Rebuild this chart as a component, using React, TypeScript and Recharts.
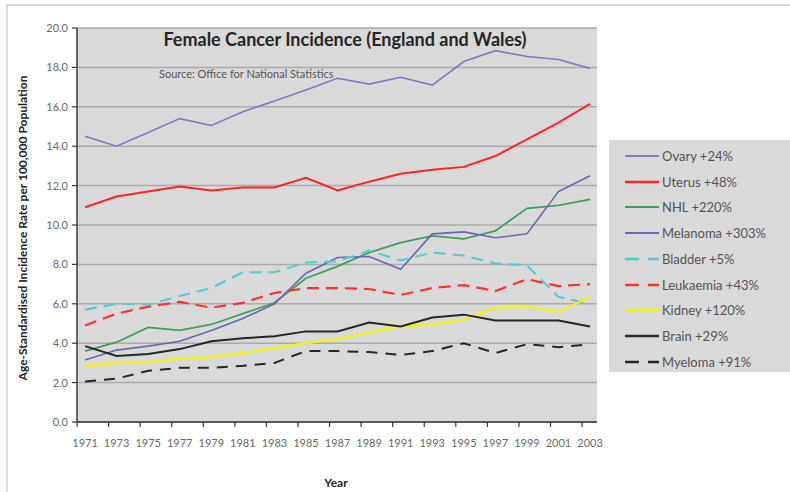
import React from 'react';
import { LineChart, Line, XAxis, YAxis, CartesianGrid } from 'recharts';

// Age-standardised incidence per 100,000 females, England and Wales
const years = [1971, 1973, 1975, 1977, 1979, 1981, 1983, 1985, 1987, 1989, 1991, 1993, 1995, 1997, 1999, 2001, 2003];

const ovary = [14.5, 14.0, 14.7, 15.4, 15.05, 15.75, 16.3, 16.85, 17.45, 17.15, 17.5, 17.1, 18.3, 18.85, 18.55, 18.4, 17.95];
const uterus = [10.9, 11.45, 11.7, 11.95, 11.75, 11.9, 11.9, 12.4, 11.75, 12.2, 12.6, 12.8, 12.95, 13.5, 14.35, 15.2, 16.15];
const nhl = [3.6, 4.05, 4.8, 4.65, 4.95, 5.5, 6.05, 7.3, 7.9, 8.6, 9.1, 9.45, 9.3, 9.7, 10.85, 11.0, 11.3];
const melanoma = [3.15, 3.65, 3.85, 4.1, 4.65, 5.25, 6.0, 7.55, 8.35, 8.4, 7.75, 9.55, 9.65, 9.35, 9.55, 11.7, 12.5];
const bladder = [5.7, 6.0, 5.95, 6.4, 6.8, 7.6, 7.6, 8.1, 8.15, 8.7, 8.2, 8.6, 8.45, 8.05, 7.95, 6.35, 6.0];
const leukaemia = [4.9, 5.5, 5.85, 6.1, 5.8, 6.05, 6.55, 6.8, 6.8, 6.75, 6.45, 6.8, 6.95, 6.65, 7.25, 6.9, 7.0];
const kidney = [2.85, 3.0, 3.05, 3.2, 3.3, 3.5, 3.75, 4.0, 4.2, 4.55, 4.85, 4.95, 5.2, 5.8, 5.85, 5.6, 6.35];
const brain = [3.85, 3.35, 3.45, 3.7, 4.1, 4.25, 4.35, 4.6, 4.6, 5.05, 4.85, 5.3, 5.45, 5.15, 5.15, 5.15, 4.85];
const myeloma = [2.05, 2.2, 2.6, 2.75, 2.75, 2.85, 3.0, 3.6, 3.6, 3.55, 3.4, 3.6, 4.0, 3.5, 3.95, 3.8, 3.95];

const yTicks = [0, 2, 4, 6, 8, 10, 12, 14, 16, 18, 20];

type Series = { key: string; name: string; values: number[]; color: string; width: number; dash?: string };

const series: Series[] = [
  { key: 'ovary', name: 'Ovary +24%', values: ovary, color: '#7b7bbf', width: 1.6 },
  { key: 'uterus', name: 'Uterus +48%', values: uterus, color: '#ff2424', width: 2 },
  { key: 'nhl', name: 'NHL +220%', values: nhl, color: '#3f9d62', width: 1.8 },
  { key: 'melanoma', name: 'Melanoma +303%', values: melanoma, color: '#6767ad', width: 1.6 },
  { key: 'bladder', name: 'Bladder +5%', values: bladder, color: '#4ccfcf', width: 2, dash: '12 7' },
  { key: 'leukaemia', name: 'Leukaemia +43%', values: leukaemia, color: '#ff3030', width: 2.2, dash: '12 7' },
  { key: 'kidney', name: 'Kidney +120%', values: kidney, color: '#f4f400', width: 2.2 },
  { key: 'brain', name: 'Brain +29%', values: brain, color: '#262626', width: 2 },
  { key: 'myeloma', name: 'Myeloma +91%', values: myeloma, color: '#262626', width: 2, dash: '11 8' },
];

const rows = years.map((year, i) => {
  const row: Record<string, number> = { year };
  series.forEach((s) => {
    row[s.key] = s.values[i];
  });
  return row;
});

const FONT = 'Lato, "Liberation Sans", sans-serif';

// tick marks sit half a step before each year label
const YearTick = (props: any) => {
  const { x, y, payload } = props;
  return (
    <g>
      <line x1={x - 8} x2={x - 8} y1={y} y2={y + 5} stroke="#3a3a3a" strokeWidth={1.2} />
      <text x={x} y={y + 25} textAnchor="middle" fontSize={11} fill="#6a6a6a" fontFamily={FONT}>
        {payload.value}
      </text>
    </g>
  );
};

const LegendBox = () => (
  <div
    style={{
      position: 'absolute',
      left: 609,
      top: 140,
      width: 181,
      height: 232,
      background: '#d9d9d9',
    }}
  >
    {series.map((s, i) => (
      <div
        key={s.key}
        style={{ position: 'absolute', left: 16, top: 7 + i * 25.7, height: 18, display: 'flex', alignItems: 'center' }}
      >
        <svg width={36} height={18}>
          <line x1={0} x2={34} y1={9} y2={9} stroke={s.color} strokeWidth={s.width + 0.4} strokeDasharray={s.dash ? '14 9' : undefined} />
        </svg>
        <span style={{ fontSize: 13, color: '#555', fontFamily: FONT, marginLeft: 1 }}>{s.name}</span>
      </div>
    ))}
  </div>
);

export default function App() {
  return (
    <div style={{ position: 'absolute', left: 0, top: 0, width: 790, height: 492, background: '#fff', fontFamily: FONT }}>
      <div
        style={{
          position: 'absolute',
          left: 6,
          top: 4,
          width: 800,
          height: 500,
          borderTop: '2px solid #dcdcdc',
          borderLeft: '2px solid #dcdcdc',
        }}
      />
      <LineChart
        width={790}
        height={492}
        data={rows}
        margin={{ top: 28, right: 193, bottom: 0, left: 0 }}
        style={{ position: 'absolute', left: 0, top: 0 }}
      >
        <CartesianGrid vertical={false} fill="#d9d9d9" stroke="#ababab" strokeWidth={1.5} />
        <XAxis
          dataKey="year"
          type="number"
          domain={[1970.49, 2003.44]}
          ticks={years}
          interval={0}
          allowDataOverflow
          height={70}
          tickSize={0}
          tickMargin={0}
          tickLine={false}
          tick={<YearTick />}
          axisLine={{ stroke: '#3a3a3a', strokeWidth: 1.5 }}
        />
        <YAxis
          domain={[0, 20]}
          ticks={yTicks}
          interval={0}
          width={77}
          tickSize={5}
          tickMargin={4}
          tickFormatter={(v: number) => v.toFixed(1)}
          tick={{ fontSize: 11, fill: '#6a6a6a', fontFamily: FONT }}
          tickLine={{ stroke: '#3a3a3a', strokeWidth: 1.2 }}
          axisLine={{ stroke: '#3a3a3a', strokeWidth: 1.5 }}
        />
        {series.map((s) => (
          <Line
            key={s.key}
            type="linear"
            dataKey={s.key}
            name={s.name}
            stroke={s.color}
            strokeWidth={s.width}
            strokeDasharray={s.dash}
            dot={false}
            activeDot={false}
            isAnimationActive={false}
          />
        ))}
      </LineChart>
      <div
        style={{
          position: 'absolute',
          left: 100,
          width: 490,
          top: 28,
          textAlign: 'center',
          fontSize: 18,
          fontWeight: 700,
          color: '#262626',
        }}
      >
        Female Cancer Incidence (England and Wales)
      </div>
      <div style={{ position: 'absolute', left: 159, top: 67, fontSize: 11, color: '#555' }}>
        Source: Office for National Statistics
      </div>
      <div
        style={{
          position: 'absolute',
          left: 22,
          top: 228,
          transform: 'translate(-50%, -50%) rotate(-90deg)',
          whiteSpace: 'nowrap',
          fontSize: 12,
          fontWeight: 700,
          color: '#262626',
        }}
      >
        Age-Standardised Incidence Rate per 100,000 Population
      </div>
      <div
        style={{
          position: 'absolute',
          left: 336,
          top: 482,
          transform: 'translate(-50%, -50%)',
          fontSize: 12,
          fontWeight: 700,
          color: '#262626',
        }}
      >
        Year
      </div>
      <LegendBox />
    </div>
  );
}
